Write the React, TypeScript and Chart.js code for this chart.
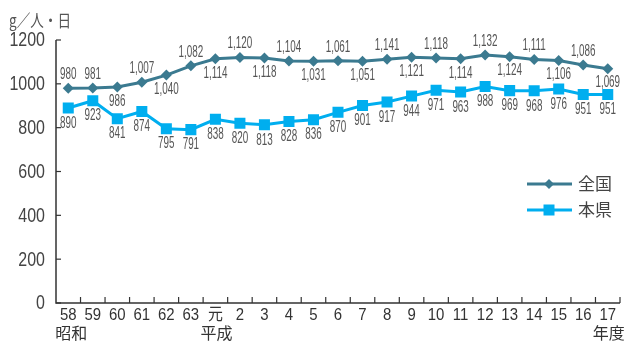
import React, { useEffect, useRef } from 'react';
import { Chart, registerables } from 'chart.js';

Chart.register(...registerables);

// ---- data ----
const yearLabels = ['58', '59', '60', '61', '62', '63', '元', '2', '3', '4', '5', '6', '7', '8', '9', '10', '11', '12', '13', '14', '15', '16', '17'];
const eraLabels = ['昭和', '', '', '', '', '', '平成', '', '', '', '', '', '', '', '', '', '', '', '', '', '', '', '年度'];

// 全国: plotted positions as drawn, and printed labels
const nationalValues = [980, 981, 986, 1007, 1040, 1082, 1114, 1120, 1118, 1104, 1103, 1105, 1103, 1112, 1121, 1118, 1114, 1132, 1124, 1111, 1106, 1086, 1069];
const nationalLabels = ['980', '981', '986', '1,007', '1,040', '1,082', '1,114', '1,120', '1,118', '1,104', '1,031', '1,061', '1,051', '1,141', '1,121', '1,118', '1,114', '1,132', '1,124', '1,111', '1,106', '1,086', '1,069'];
const nationalLabelAbove = [true, true, false, true, false, true, false, true, false, true, false, true, false, true, false, true, false, true, false, true, false, true, false];

// 本県
const prefValues = [890, 923, 841, 874, 795, 791, 838, 820, 813, 828, 836, 870, 901, 917, 944, 971, 963, 988, 969, 968, 976, 951, 951];
const prefLabels = prefValues.map(String);

const yTicks = [0, 200, 400, 600, 800, 1000, 1200];
const unitTitle = 'g／人・日';
const seriesNames = ['全国', '本県'];

const NATIONAL_COLOR = '#3b7a90';
const PREF_COLOR = '#00aeef';
const LATIN = '"Liberation Sans", Arial, sans-serif';
const CJK = '"Noto Sans CJK JP", sans-serif';

function condensedText(ctx: any, text: string, px: number, py: number, font: string, sx: number, color: string, align: string) {
  ctx.save();
  ctx.translate(px, py);
  ctx.scale(sx, 1);
  ctx.font = font;
  ctx.fillStyle = color;
  ctx.textAlign = align;
  ctx.textBaseline = 'middle';
  ctx.fillText(text, 0, 0);
  ctx.restore();
}

const decorPlugin = {
  id: 'decor',
  afterDatasetsDraw(chart: any) {
    const { ctx, chartArea: a, scales } = chart;
    const x = scales.x;
    const y = scales.y;
    ctx.save();
    // axes
    ctx.strokeStyle = '#333';
    ctx.lineWidth = 1.5;
    ctx.beginPath();
    ctx.moveTo(a.left, a.top);
    ctx.lineTo(a.left, a.bottom);
    ctx.lineTo(a.right, a.bottom);
    ctx.stroke();
    ctx.lineWidth = 1.2;
    y.ticks.forEach((t: any, i: number) => {
      const py = y.getPixelForTick(i);
      ctx.beginPath();
      ctx.moveTo(a.left, py);
      ctx.lineTo(a.left + 5, py);
      ctx.stroke();
      condensedText(ctx, String(t.value), a.left - 11, py + 1, '19.5px ' + LATIN, 0.82, '#444', 'right');
    });
    const step = x.getPixelForValue(1) - x.getPixelForValue(0);
    x.ticks.forEach((t: any, i: number) => {
      const cx = x.getPixelForTick(i);
      const px = cx + step / 2;
      ctx.beginPath();
      ctx.moveTo(px, a.bottom);
      ctx.lineTo(px, a.bottom - 6);
      ctx.stroke();
      condensedText(ctx, yearLabels[i], cx, a.bottom + 12, '17px ' + LATIN + ', ' + CJK, 0.88, '#333', 'center');
      if (eraLabels[i]) {
        condensedText(ctx, eraLabels[i], cx + (i === 0 ? 3 : 1), a.bottom + 30, '16px ' + CJK, 1, '#333', 'center');
      }
    });

    // data labels (condensed)
    const m0 = chart.getDatasetMeta(0);
    m0.data.forEach((pt: any, i: number) => {
      condensedText(ctx, nationalLabels[i], pt.x, pt.y + (nationalLabelAbove[i] ? -14 : 14), '17px ' + LATIN, 0.58, '#555', 'center');
    });
    const m1 = chart.getDatasetMeta(1);
    m1.data.forEach((pt: any, i: number) => {
      condensedText(ctx, prefLabels[i], pt.x, pt.y + 15, '17px ' + LATIN, 0.58, '#555', 'center');
    });

    // unit title
    condensedText(ctx, unitTitle, 9, 21, '17px ' + CJK, 0.8, '#555', 'left');

    // legend
    const items = [
      { name: seriesNames[0], color: NATIONAL_COLOR, style: 'diamond', yy: 184 },
      { name: seriesNames[1], color: PREF_COLOR, style: 'square', yy: 210 },
    ];
    items.forEach((it) => {
      ctx.strokeStyle = it.color;
      ctx.fillStyle = it.color;
      ctx.lineWidth = 3;
      ctx.beginPath();
      ctx.moveTo(527, it.yy);
      ctx.lineTo(572, it.yy);
      ctx.stroke();
      const cx = 549;
      if (it.style === 'diamond') {
        ctx.beginPath();
        ctx.moveTo(cx - 5, it.yy);
        ctx.lineTo(cx, it.yy - 5);
        ctx.lineTo(cx + 5, it.yy);
        ctx.lineTo(cx, it.yy + 5);
        ctx.closePath();
        ctx.fill();
      } else {
        ctx.fillRect(cx - 5.5, it.yy - 5.5, 11, 11);
      }
      condensedText(ctx, it.name, 578, it.yy, '17px ' + CJK, 1, '#444', 'left');
    });
    ctx.restore();
  },
};

export default function App() {
  const ref = useRef<HTMLCanvasElement | null>(null);
  useEffect(() => {
    if (!ref.current) return;
    const chart = new Chart(ref.current, {
      type: 'line',
      data: {
        labels: yearLabels,
        datasets: [
          {
            label: seriesNames[0],
            data: nationalValues,
            borderColor: NATIONAL_COLOR,
            backgroundColor: NATIONAL_COLOR,
            borderWidth: 3,
            pointStyle: 'rectRot',
            pointRadius: 5.5,
            pointBorderWidth: 0,
            tension: 0,
          },
          {
            label: seriesNames[1],
            data: prefValues,
            borderColor: PREF_COLOR,
            backgroundColor: PREF_COLOR,
            borderWidth: 3,
            pointStyle: 'rect',
            pointRadius: 7.8,
            pointBorderWidth: 0,
            tension: 0,
          },
        ],
      },
      options: {
        animation: false,
        responsive: false,
        layout: { padding: { top: 40, right: 9, left: 0, bottom: 0 } },
        plugins: { legend: { display: false }, tooltip: { enabled: false } },
        scales: {
          x: {
            type: 'category',
            offset: true,
            grid: { display: false },
            border: { display: false },
            ticks: { display: false, autoSkip: false, maxRotation: 0 },
            afterFit: (s: any) => { s.height = 39; },
          },
          y: {
            min: 0,
            max: 1200,
            grid: { display: false },
            border: { display: false },
            ticks: { display: false, stepSize: 200 },
            afterFit: (s: any) => { s.width = 56; },
          },
        },
      },
      plugins: [decorPlugin],
    } as any);
    return () => chart.destroy();
  }, []);
  return (
    <div style={{ position: 'fixed', left: 0, top: 0, width: 629, height: 342, background: '#fff' }}>
      <canvas ref={ref} width={629} height={342} style={{ display: 'block' }} />
    </div>
  );
}
